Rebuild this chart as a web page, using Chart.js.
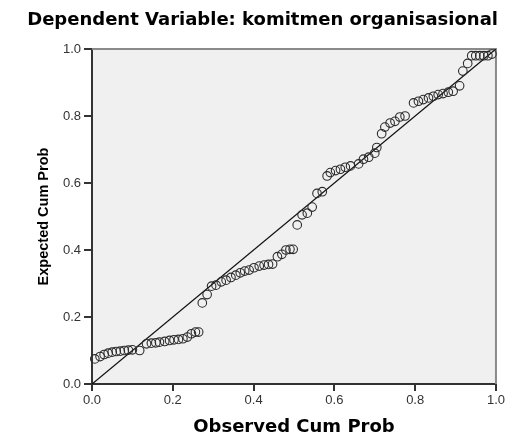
<!DOCTYPE html>
<html>
<head>
<meta charset="utf-8">
<script src="https://cdn.jsdelivr.net/npm/chart.js@4.4.1/dist/chart.umd.min.js"></script>
<style>
  html, body { margin: 0; padding: 0; background: #fff; }
  canvas { display: block; }
</style>
</head>
<body>
<canvas id="pp" width="507" height="436"></canvas>
<script>
// P-P plot, values
const observedCumProb = [0.007, 0.02, 0.03, 0.04, 0.05, 0.06, 0.07, 0.08, 0.09, 0.10,
  0.118, 0.135, 0.147, 0.158, 0.167, 0.18, 0.192, 0.203, 0.214, 0.225,
  0.236, 0.246, 0.256, 0.264, 0.273, 0.285, 0.296, 0.307, 0.32, 0.332,
  0.344, 0.356, 0.367, 0.378, 0.389, 0.401, 0.414, 0.426, 0.437, 0.447,
  0.459, 0.47, 0.48, 0.49, 0.498, 0.508, 0.52, 0.533, 0.545, 0.557,
  0.57, 0.582, 0.59, 0.603, 0.615, 0.627, 0.64, 0.66, 0.672, 0.685,
  0.70, 0.705, 0.717, 0.725, 0.738, 0.75, 0.762, 0.775, 0.796, 0.808,
  0.82, 0.833, 0.845, 0.857, 0.869, 0.882, 0.894, 0.91, 0.918, 0.93,
  0.94, 0.95, 0.96, 0.97, 0.98, 0.99]
const expectedCumProb = [0.075, 0.082, 0.088, 0.092, 0.095, 0.097, 0.098, 0.10, 0.101, 0.102,
  0.10, 0.12, 0.122, 0.123, 0.125, 0.127, 0.13, 0.132, 0.133, 0.135,
  0.14, 0.15, 0.155, 0.155, 0.242, 0.267, 0.292, 0.295, 0.305, 0.31,
  0.318, 0.325, 0.332, 0.337, 0.34, 0.347, 0.352, 0.355, 0.357, 0.358,
  0.38, 0.387, 0.40, 0.402, 0.402, 0.475, 0.505, 0.51, 0.528, 0.569,
  0.574, 0.621, 0.631, 0.637, 0.641, 0.647, 0.651, 0.657, 0.671, 0.677,
  0.689, 0.706, 0.747, 0.767, 0.779, 0.784, 0.797, 0.80, 0.839, 0.844,
  0.849, 0.854, 0.859, 0.864, 0.867, 0.871, 0.874, 0.89, 0.934, 0.957,
  0.98, 0.98, 0.98, 0.98, 0.98, 0.985]
const refLine = [0, 1]
const tickValues = [0, 0.2, 0.4, 0.6, 0.8, 1.0]

const points = observedCumProb.map((x, i) => ({ x, y: expectedCumProb[i] }))
const diagonal = refLine.map(v => ({ x: v, y: v }))

// grey plot background + light top/right frame like SPSS
const plotFrame = {
  id: 'plotFrame',
  beforeDraw (chart) {
    const { ctx, chartArea: a } = chart
    ctx.save()
    ctx.fillStyle = '#f0f0f0'
    ctx.fillRect(a.left, a.top, a.right - a.left, a.bottom - a.top)
    ctx.restore()
  },
  beforeDatasetsDraw (chart) {
    const { ctx, chartArea: a } = chart
    ctx.save()
    ctx.strokeStyle = '#8a8a8a'
    ctx.lineWidth = 2
    ctx.beginPath()
    ctx.moveTo(a.left, a.top)
    ctx.lineTo(a.right, a.top)
    ctx.lineTo(a.right, a.bottom)
    ctx.stroke()
    ctx.restore()
  }
}

const fixedTicks = scale => { scale.ticks = tickValues.map(v => ({ value: v })) }

Chart.defaults.font.family = 'Liberation Sans'

new Chart(document.getElementById('pp'), {
  type: 'scatter',
  data: {
    datasets: [{
      data: points,
      pointRadius: 4.3,
      pointHoverRadius: 4.3,
      borderColor: '#2b2b2b',
      borderWidth: 1.1,
      backgroundColor: 'rgba(0,0,0,0)',
      clip: false
    }, {
      type: 'line',
      data: diagonal,
      borderColor: '#111',
      borderWidth: 1.3,
      pointRadius: 0,
      fill: false
    }]
  },
  plugins: [plotFrame],
  options: {
    responsive: false,
    animation: false,
    devicePixelRatio: 1,
    layout: { padding: { right: 9 } },
    plugins: {
      legend: { display: false },
      tooltip: { enabled: false },
      title: {
        display: true,
        text: 'Dependent Variable: komitmen organisasional',
        align: 'end',
        color: '#000',
        font: { family: 'DejaVu Sans', weight: 'bold', size: 18, lineHeight: 1.2 },
        padding: { top: 10, bottom: 17.4 }
      }
    },
    scales: {
      x: {
        type: 'linear',
        min: 0,
        max: 1,
        afterBuildTicks: fixedTicks,
        afterFit: s => { s.height = 52 },
        border: { color: '#333', width: 2 },
        grid: { drawOnChartArea: false, tickLength: 7, color: '#333', lineWidth: 2 },
        ticks: { color: '#333', padding: 2, font: { size: 13 }, callback: v => v.toFixed(1) },
        title: {
          display: true,
          text: 'Observed Cum Prob',
          color: '#000',
          font: { family: 'DejaVu Sans', weight: 'bold', size: 18, lineHeight: 1 },
          padding: { top: 0, bottom: 0 }
        }
      },
      y: {
        type: 'linear',
        min: 0,
        max: 1,
        afterBuildTicks: fixedTicks,
        afterFit: s => { s.width = 92 },
        border: { color: '#333', width: 2 },
        grid: { drawOnChartArea: false, tickLength: 8, color: '#333', lineWidth: 2 },
        ticks: { color: '#333', padding: 3, font: { size: 13 }, callback: v => v.toFixed(1) },
        title: {
          display: true,
          text: 'Expected Cum Prob',
          color: '#000',
          font: { weight: 'bold', size: 14.5, lineHeight: 1 },
          padding: { top: 37, bottom: 0 }
        }
      }
    }
  }
})
</script>
</body>
</html>
